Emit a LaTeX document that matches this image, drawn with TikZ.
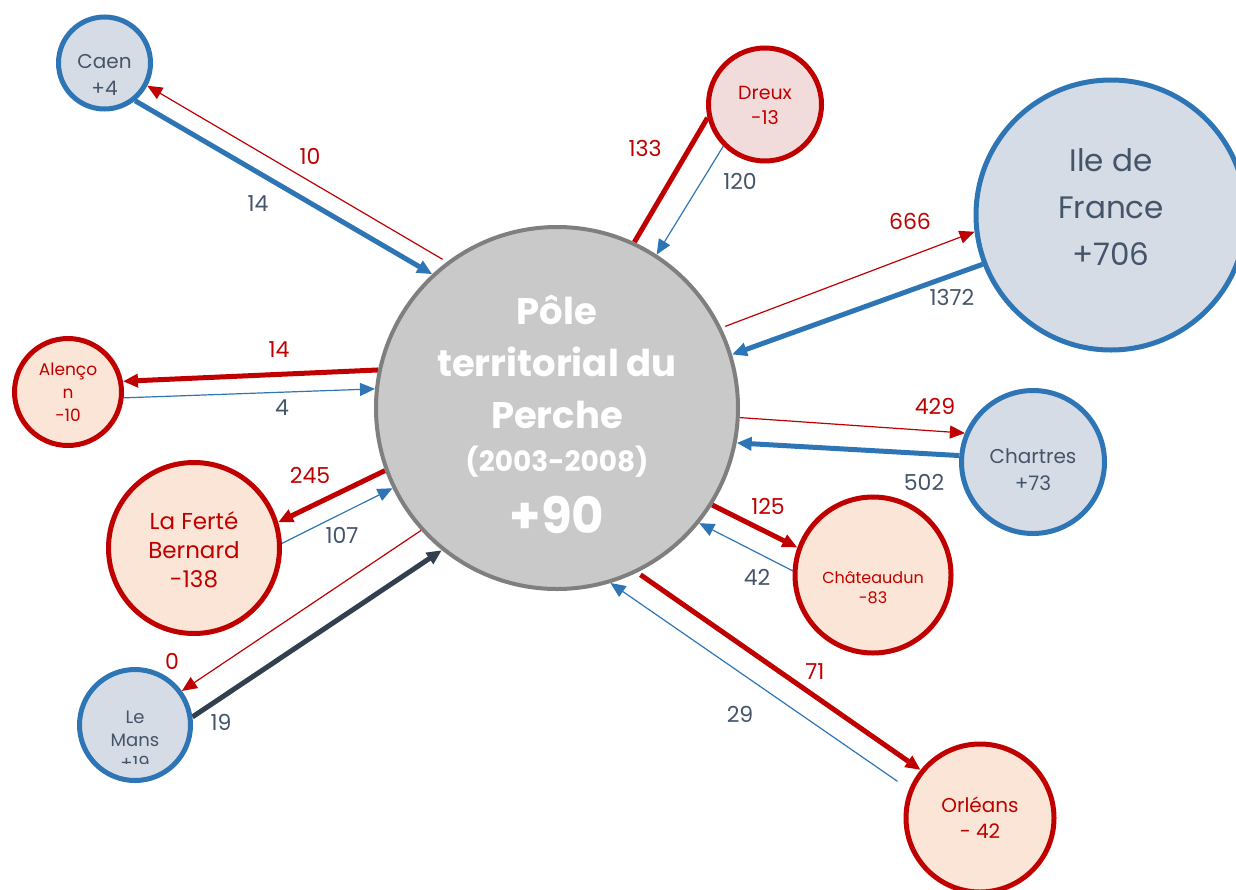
\documentclass[tikz,border=0pt]{standalone}
\usepackage{fontspec}
\setmainfont{Poppins}
\usetikzlibrary{arrows.meta,backgrounds}
\definecolor{cred}{HTML}{C00000}
\definecolor{cblue}{HTML}{2E75B6}
\definecolor{cdark}{HTML}{323F4F}
\definecolor{cgray}{HTML}{44546A}
\definecolor{bfill}{HTML}{D6DCE5}
\definecolor{rfill}{HTML}{FBE5D6}
\definecolor{dfill}{HTML}{F2DCDB}
\definecolor{pfill}{HTML}{C9C9C9}
\definecolor{pline}{HTML}{7F7F7F}
\tikzset{
  cnode/.style={circle, line width=5pt, inner sep=0pt},
  bnode/.style={cnode, draw=cblue, fill=bfill},
  rnode/.style={cnode, draw=cred, fill=rfill},
  ntxt/.style={align=center, inner sep=0pt},
  btxt/.style={ntxt, text=cgray},
  rtxt/.style={ntxt, text=cred},
  rthick/.style={draw=cred, line width=5pt},
  rthin/.style={draw=cred, line width=1.2pt},
  bthick/.style={draw=cblue, line width=5pt},
  bthin/.style={draw=cblue, line width=1.2pt},
  dthick/.style={draw=cdark, line width=5pt},
  tipa/.style={-{Triangle[length=15pt,width=13pt]}},
  lab/.style={inner sep=0pt, font=\fontsize{22}{26}\selectfont},
  rlab/.style={lab, text=cred},
  glab/.style={lab, text=cgray},
}
\begin{document}
\begin{tikzpicture}[x=1pt,y=-1pt]
\path[use as bounding box] (0,0) rectangle (1236,889);
\clip (0,0) rectangle (1236,889);

% circles
\node[cnode, draw=pline, fill=pfill, line width=4pt, minimum size=362pt] (pole) at (557,408) {};
\node[bnode, minimum size=92pt] (caen) at (104.5,63) {};
\node[cnode, draw=cred, fill=dfill, minimum size=113pt] (dreux) at (765,104.5) {};
\node[bnode, minimum size=270pt] (idf) at (1111,215) {};
\node[rnode, minimum size=107pt] (alencon) at (68,392) {};
\node[rnode, minimum size=171pt] (lfb) at (194,548) {};
\node[bnode, minimum size=111pt] (lemans) at (135,725) {};
\node[bnode, minimum size=143pt] (chartres) at (1033,462) {};
\node[rnode, minimum size=156pt] (chateaudun) at (873,575) {};
\node[rnode, minimum size=148pt] (orleans) at (980,818) {};

% node texts
\node[text=white, ntxt, font=\bfseries\fontsize{37}{52}\selectfont] (poleA) at (557,362) {Pôle\\territorial du\\Perche};
\node[text=white, ntxt, font=\bfseries\fontsize{28}{32}\selectfont] (poleB) at (557,462) {(2003-2008)};
\node[text=white, ntxt, font=\bfseries\fontsize{50}{56}\selectfont] (poleC) at (557,515) {+90};
\node[btxt, font=\fontsize{20}{27}\selectfont] (caenT) at (104.5,75) {Caen\\+4};
\node[rtxt, font=\fontsize{19}{25}\selectfont] (dreuxT) at (765,105) {Dreux\\-13};
\node[btxt, font=\fontsize{31}{47}\selectfont] (idfT) at (1111,207) {Ile de\\France\\+706};
\node[rtxt, font=\fontsize{17}{23}\selectfont] (alenconT) at (68,392) {Alenço\\n\\-10};
\node[rtxt, font=\fontsize{23}{29}\selectfont] (lfbT) at (194,550) {La Ferté\\Bernard\\-138};
\begin{scope}
\clip (0,0) rectangle (1236,763);
\node[btxt, font=\fontsize{18}{23}\selectfont] (lemansT) at (135,740) {Le\\Mans\\+19};
\end{scope}
\node[btxt, font=\fontsize{20}{27}\selectfont] (chartresT) at (1033,470) {Chartres\\+73};
\node[rtxt, font=\fontsize{16}{20}\selectfont] (chateaudunT) at (873,588) {Châteaudun\\-83};
\node[rtxt, font=\fontsize{20}{26}\selectfont] (orleansT) at (980,818) {Orléans\\- 42};

% connectors
\begin{scope}[on background layer]
\draw[bthick,tipa] (caen.-51.4) -- (pole.133.5);
\draw[rthin,tipa,shorten <=5pt] (pole.127.2) -- (caen.-28.9);
\draw[rthick] (pole.65.7) -- (dreux.193.6);
\draw[bthin,tipa] (dreux.225.3) -- (pole.57.4);
\draw[rthin,tipa,shorten <=4pt] (pole.26) -- (idf.187);
\draw[bthick,tipa] (idf.201.3) -- (pole.17.9);
\draw[rthick,tipa] (pole.168.3) -- (alencon.11.3);
\draw[bthin,tipa] (alencon.-6.3) -- (pole.174.1);
\draw[rthick,tipa] (pole.200) -- (lfb.17.8);
\draw[bthin,tipa] (lfb.3.2) -- (pole.206.4);
\draw[rthin,tipa] (pole.222.8) -- (lemans.36.1);
\draw[dthick,tipa] (lemans.8.8) -- (pole.231.5);
\draw[rthin,tipa] (pole.-3.8) -- (chartres.157.1);
\draw[bthick,tipa] (chartres.175.3) -- (pole.-11.7);
\draw[rthick,tipa] (pole.-32.5) -- (chateaudun.160.2);
\draw[bthin,tipa] (chateaudun.177.2) -- (pole.-39.9);
\draw[rthick,tipa,shorten <=4pt] (pole.-64) -- (orleans.141.1);
\draw[bthin,tipa,shorten <=14pt] (orleans.158.6) -- (pole.-73.9);
\end{scope}

% labels
\node[rlab] (l1) at (310,156) {10};
\node[glab] (l2) at (258,204) {14};
\node[rlab] (l3) at (645,148) {133};
\node[glab] (l4) at (740,181) {120};
\node[rlab] (l5) at (910,221) {666};
\node[glab] (l6) at (952,297) {1372};
\node[rlab] (l7) at (279,350) {14};
\node[glab] (l8) at (282,408) {4};
\node[rlab] (l9) at (310,475) {245};
\node[glab] (l10) at (342,535) {107};
\node[rlab] (l11) at (172,661) {0};
\node[glab] (l12) at (221,722) {19};
\node[rlab] (l13) at (935,406) {429};
\node[glab] (l14) at (924,482) {502};
\node[rlab] (l15) at (768,506) {125};
\node[glab] (l16) at (757,577) {42};
\node[rlab] (l17) at (815,672) {71};
\node[glab] (l18) at (740,714) {29};
\end{tikzpicture}
\end{document}
